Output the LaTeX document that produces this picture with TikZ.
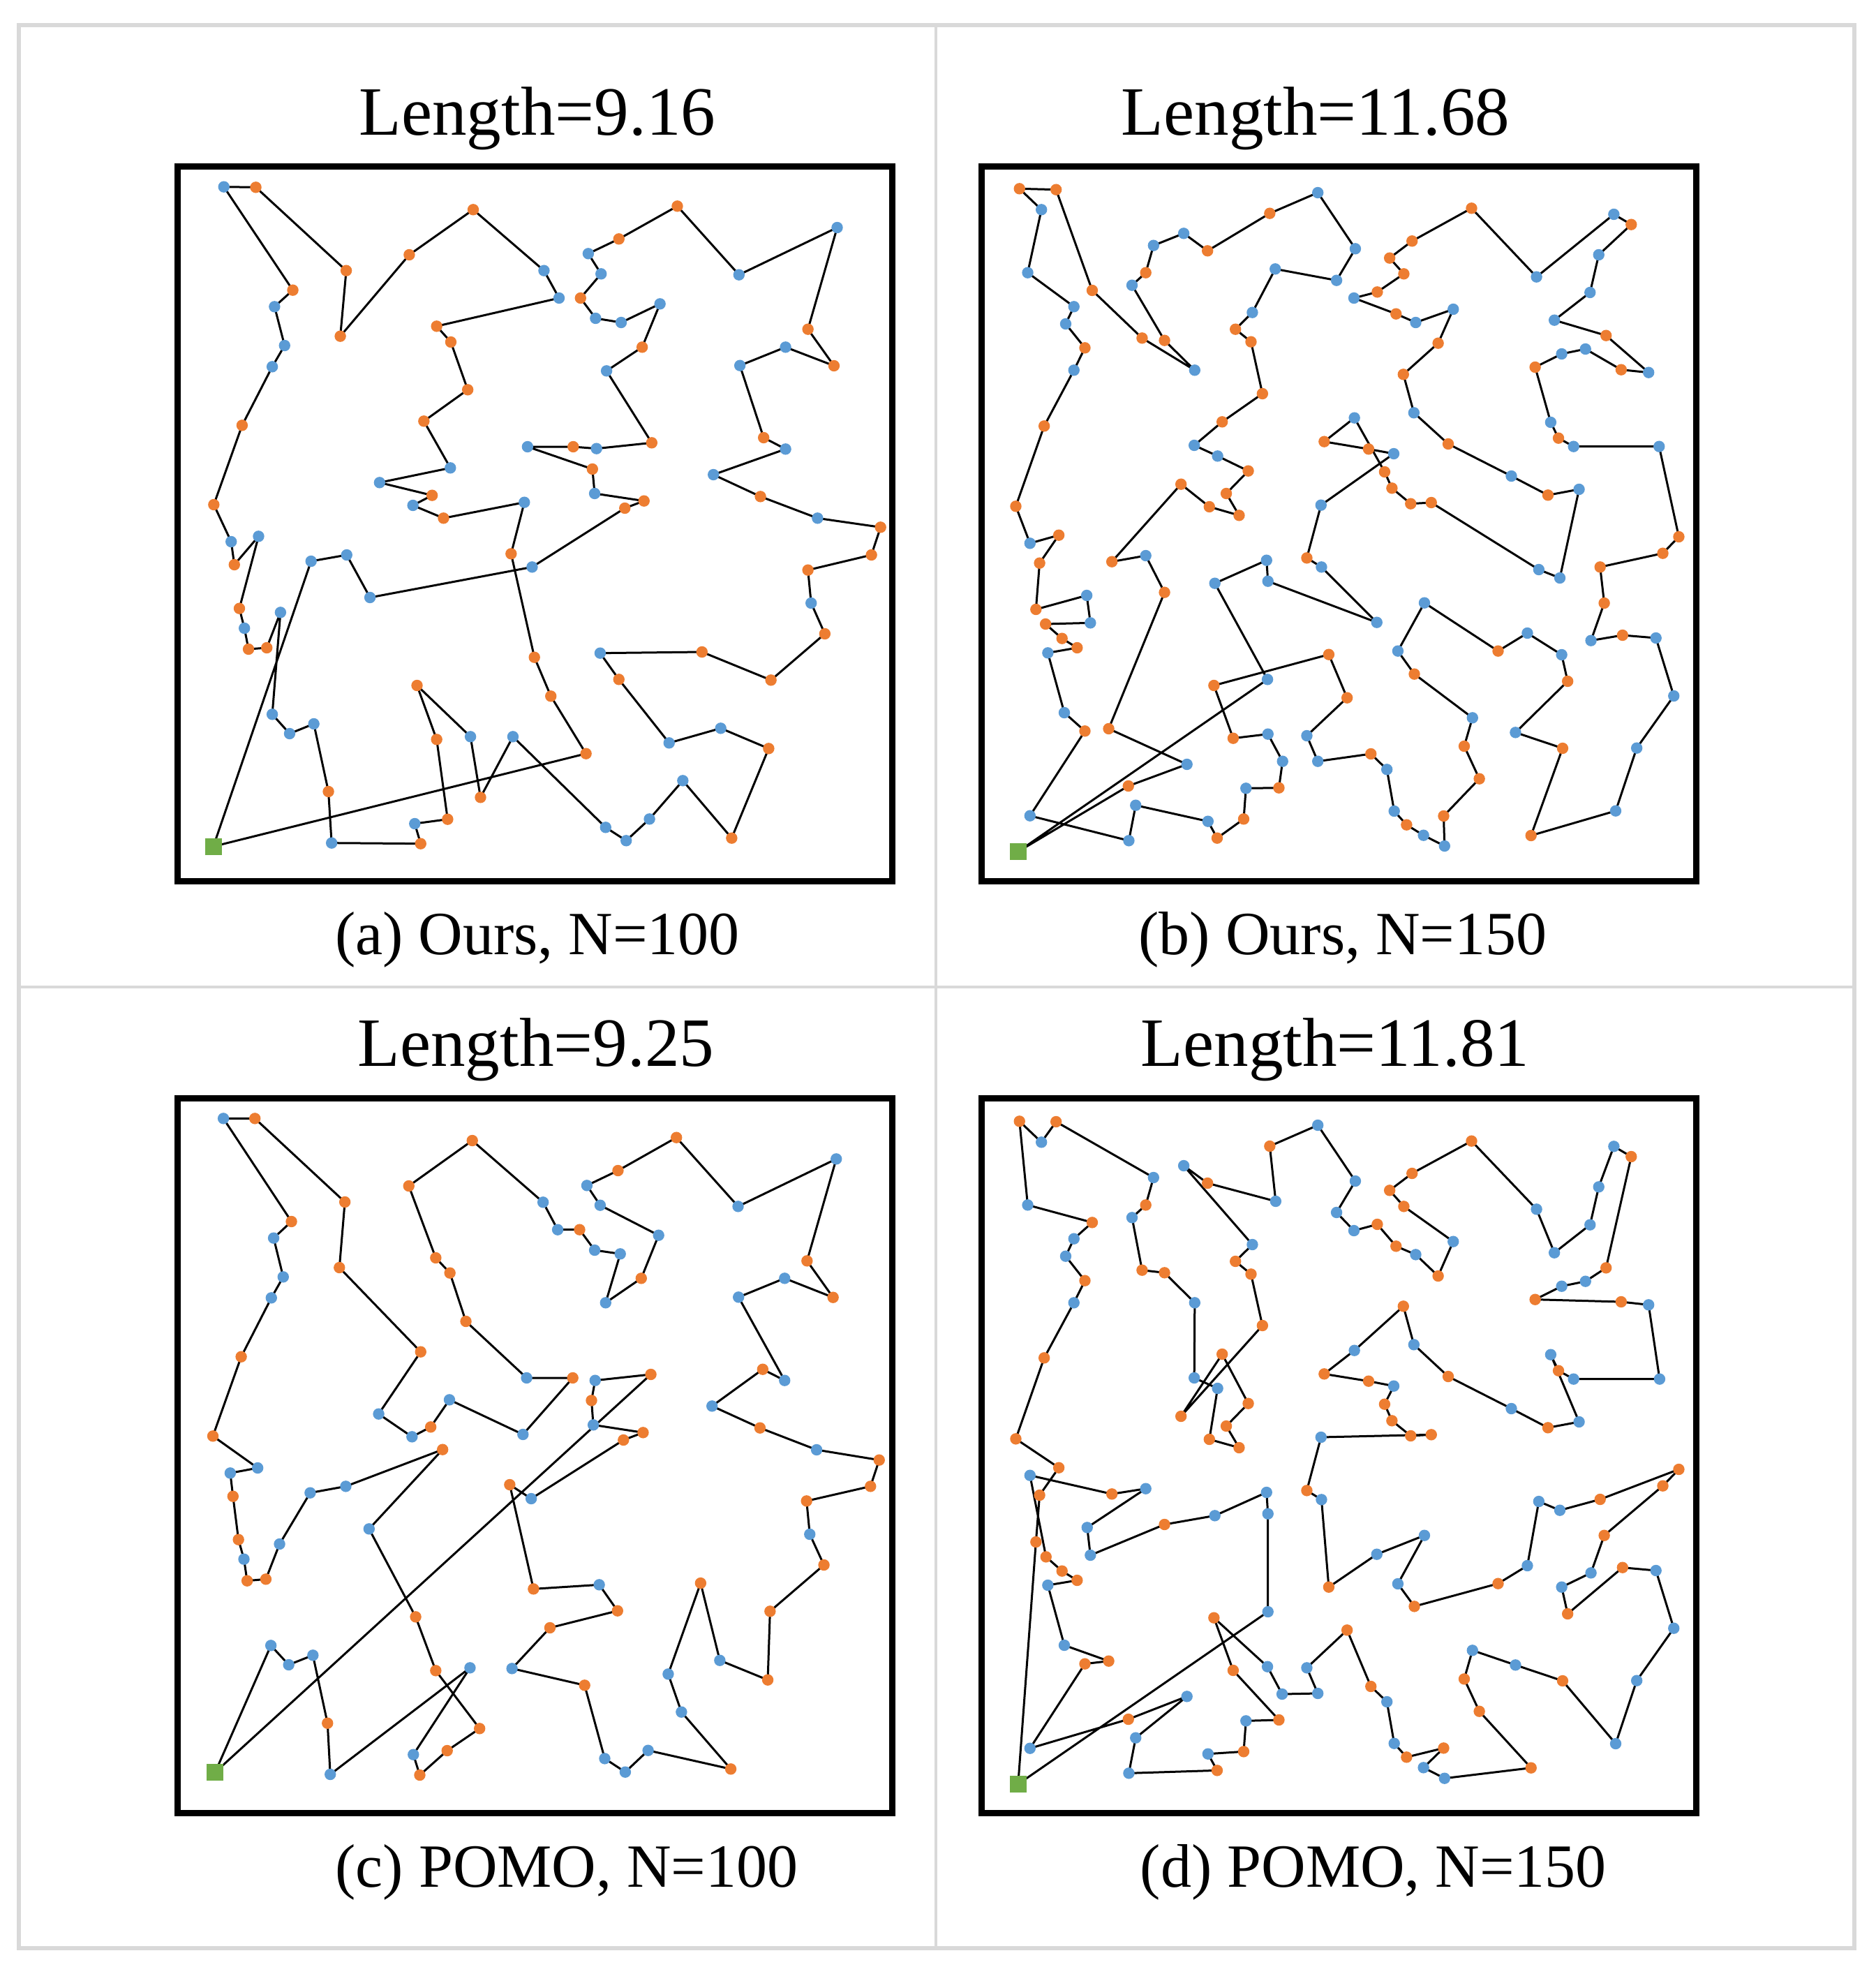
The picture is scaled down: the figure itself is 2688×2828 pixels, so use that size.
\documentclass[tikz,border=0pt]{standalone}
\usepackage{fontspec}
\setmainfont{Liberation Serif}
\usetikzlibrary{backgrounds}
\definecolor{dblue}{HTML}{5B9BD5}
\definecolor{dorange}{HTML}{ED7D31}
\definecolor{dgreen}{HTML}{70AD47}
\definecolor{lgray}{HTML}{D9D9D9}
\newcommand\Bp[3]{\node[bdot] (#1) at (#2,#3) {};}
\newcommand\Op[3]{\node[odot] (#1) at (#2,#3) {};}
\newcommand\Dp[3]{\node[depot] (#1) at (#2,#3) {};}
\begin{document}
\begin{tikzpicture}[x=0.25pt,y=-0.25pt,
 bdot/.style={circle,fill=dblue,inner sep=0pt,minimum size=4.1pt},
 odot/.style={circle,fill=dorange,inner sep=0pt,minimum size=4.1pt},
 depot/.style={rectangle,fill=dgreen,inner sep=0pt,minimum size=6pt},
 toursty/.style={line width=0.75pt,black,line join=round,line cap=round},
 panelframe/.style={line width=2.4pt,black},
 divline/.style={lgray,line width=1pt},
 ttl/.style={anchor=base,inner sep=0pt,font=\fontsize{24.8}{30}\selectfont},
 capt/.style={anchor=base,inner sep=0pt,font=\fontsize{22}{26}\selectfont}]
\useasboundingbox (0,0) rectangle (2688,2828);
% outer border and dividers
\draw[lgray,line width=1.6pt] (27,36) rectangle (2657,2791);
\draw[divline] (1341,36) -- (1341,2791);
\draw[divline] (27,1414) -- (2657,1414);
% panel frames
\draw[panelframe] (254.5,238.5) rectangle (1278.5,1262.5);
\draw[panelframe] (1406.5,238.5) rectangle (2430.5,1262.5);
\draw[panelframe] (254.5,1573.5) rectangle (1278.5,2597.5);
\draw[panelframe] (1406.5,1573.5) rectangle (2430.5,2597.5);
% texts
\node[ttl] (txa) at (770,193) {Length=9.16};
\node[ttl] (txb) at (1885,193) {Length=11.68};
\node[capt] (cpa) at (770,1367) {(a) Ours, N=100};
\node[capt] (cpb) at (1924,1367) {(b) Ours, N=150};
\node[ttl] (txc) at (768,1527) {Length=9.25};
\node[ttl] (txd) at (1913,1527) {Length=11.81};
\node[capt] (cpc) at (812,2703) {(c) POMO, N=100};
\node[capt] (cpd) at (1968,2703) {(d) POMO, N=150};

% ================= Panel (a) =================
\begin{scope}[shift={(254,236)},xscale=0.65434,yscale=0.33333]
\Bp{a1}{102}{95}\Op{a2}{172}{97}\Op{a3}{370}{455}\Op{a4}{357}{737}\Op{a5}{508}{387}
\Op{a6}{648}{193}\Bp{a7}{803}{455}\Bp{a8}{836}{573}\Op{a9}{568}{694}\Op{a10}{599}{762}
\Op{a11}{636}{967}\Op{a12}{540}{1102}\Bp{a13}{598}{1303}\Bp{a14}{443}{1366}\Op{a15}{558}{1421}
\Bp{a16}{516}{1464}\Op{a17}{583}{1519}\Bp{a18}{760}{1451}\Op{a19}{253}{539}\Bp{a20}{213}{610}
\Bp{a21}{235}{777}\Bp{a22}{208}{868}\Op{a23}{142}{1120}\Op{a24}{80}{1461}\Op{a25}{1095}{178}
\Op{a26}{967}{319}\Bp{a27}{900}{382}\Bp{a28}{928}{469}\Op{a29}{883}{573}\Bp{a30}{916}{660}
\Bp{a31}{972}{678}\Bp{a32}{1057}{598}\Op{a33}{1018}{784}\Bp{a34}{940}{886}\Op{a35}{1039}{1195}
\Bp{a36}{918}{1220}\Op{a37}{867}{1212}\Bp{a38}{767}{1212}\Op{a39}{909}{1308}\Bp{a40}{914}{1413}
\Op{a41}{1022}{1445}\Op{a42}{980}{1476}\Bp{a43}{1230}{473}\Bp{a44}{1445}{270}\Op{a45}{1381}{707}
\Bp{a46}{1332}{784}\Bp{a47}{1232}{863}\Op{a48}{1438}{864}\Op{a49}{1284}{1173}\Bp{a50}{1332}{1222}
\Bp{a51}{1174}{1332}\Op{a52}{1277}{1426}\Bp{a53}{1402}{1519}\Op{a54}{1540}{1558}
\end{scope}
\begin{scope}[shift={(254,740)},xscale=0.65434,yscale=0.33333]
\Bp{aa4}{118}{108}\Bp{aa5}{178}{85}\Op{aa6}{125}{207}\Op{aa7}{731}{160}\Bp{aa8}{777}{217}
\Bp{aa9}{293}{192}\Bp{aa10}{371}{165}\Bp{aa11}{422}{348}\Op{aa12}{1520}{165}\Op{aa13}{1381}{230}
\Bp{aa14}{1388}{372}\Op{aa15}{1418}{504}\Op{aa16}{1300}{703}\Op{aa17}{1149}{582}\Bp{aa18}{926}{587}
\Op{aa19}{967}{700}\Bp{aa20}{1077}{973}\Bp{aa21}{1190}{910}\Op{aa22}{1295}{997}\Op{aa23}{1214}{1382}
\Bp{aa24}{1107}{1135}\Bp{aa25}{1034}{1300}\Bp{aa26}{983}{1393}\Bp{aa27}{938}{1336}\Bp{aa28}{735}{946}
\Op{aa29}{664}{1207}\Bp{aa30}{642}{946}\Op{aa31}{525}{726}\Op{aa32}{568}{958}\Op{aa33}{592}{1301}
\Bp{aa34}{520}{1320}\Op{aa35}{533}{1406}\Bp{aa36}{338}{1403}\Op{aa37}{331}{1182}\Bp{aa38}{299}{891}
\Bp{aa39}{246}{933}\Bp{aa40}{208}{850}\Bp{aa41}{226}{412}\Op{aa42}{136}{395}\Bp{aa43}{147}{480}
\Op{aa44}{156}{570}\Op{aa45}{196}{564}\Op{aa46}{782}{605}\Op{aa47}{818}{772}\Op{aa48}{895}{1019}
\Dp{ad}{79}{1418}
\end{scope}

% ================= Panel (b) =================
\begin{scope}[shift={(1405,236)},xscale=0.65561,yscale=0.33333]
\Op{b1}{85}{103}\Op{b2}{165}{107}\Bp{b3}{133}{193}\Bp{b4}{103}{464}\Op{b5}{244}{540}
\Bp{b6}{204}{610}\Bp{b7}{186}{684}\Op{b8}{228}{787}\Bp{b9}{204}{883}\Op{b10}{139}{1123}
\Op{b11}{77}{1468}\Op{b12}{353}{745}\Op{b13}{402}{755}\Bp{b14}{468}{883}\Bp{b15}{331}{518}
\Op{b16}{361}{464}\Bp{b17}{378}{347}\Bp{b18}{444}{295}\Op{b19}{496}{370}\Op{b20}{632}{209}
\Bp{b21}{737}{120}\Bp{b22}{819}{361}\Bp{b23}{778}{497}\Bp{b24}{644}{448}\Bp{b25}{594}{635}
\Op{b26}{557}{707}\Op{b27}{591}{761}\Op{b28}{616}{984}\Op{b29}{528}{1105}\Bp{b30}{467}{1206}
\Bp{b31}{518}{1252}\Op{b32}{585}{1316}\Op{b33}{537}{1413}\Op{b34}{565}{1507}\Op{b35}{500}{1470}
\Op{b36}{438}{1373}\Op{b37}{1073}{187}\Op{b38}{943}{328}\Op{b39}{894}{401}\Op{b40}{925}{469}
\Op{b41}{867}{547}\Bp{b42}{816}{573}\Op{b43}{908}{641}\Bp{b44}{951}{678}\Bp{b45}{1033}{621}
\Op{b46}{1000}{767}\Op{b47}{924}{901}\Bp{b48}{947}{1066}\Op{b49}{1022}{1200}\Bp{b50}{1160}{1338}
\Op{b51}{1240}{1420}\Bp{b52}{1308}{1395}\Bp{b53}{1215}{482}\Bp{b54}{1384}{213}\Op{b55}{1422}{257}
\Bp{b56}{1351}{387}\Bp{b57}{1332}{549}\Bp{b58}{1254}{668}\Op{b59}{1367}{734}\Bp{b60}{1460}{893}
\Op{b61}{1400}{881}\Bp{b62}{1322}{792}\Bp{b63}{1270}{813}\Op{b64}{1212}{870}\Bp{b65}{1246}{1107}
\Op{b66}{1263}{1175}\Bp{b67}{1296}{1211}\Bp{b68}{1483}{1211}\Bp{b69}{817}{1088}\Op{b70}{751}{1190}
\Op{b71}{848}{1222}\Bp{b72}{903}{1242}\Bp{b73}{744}{1463}\Op{b74}{883}{1320}\Op{b75}{899}{1390}
\Op{b76}{940}{1457}\Op{b77}{985}{1452}
\end{scope}
\begin{scope}[shift={(1405,740)},xscale=0.65561,yscale=0.33333]
\Bp{bb2}{108}{115}\Op{bb3}{171}{80}\Op{bb4}{129}{200}\Bp{bb5}{232}{339}\Op{bb6}{121}{399}
\Bp{bb7}{240}{457}\Op{bb8}{142}{462}\Op{bb9}{178}{524}\Op{bb10}{211}{564}\Bp{bb11}{147}{586}
\Bp{bb12}{183}{843}\Op{bb13}{228}{922}\Bp{bb14}{108}{1286}\Bp{bb15}{324}{1393}\Bp{bb16}{339}{1241}
\Bp{bb17}{497}{1310}\Op{bb18}{517}{1382}\Op{bb19}{575}{1300}\Bp{bb20}{580}{1168}\Op{bb21}{652}{1166}
\Bp{bb22}{660}{1052}\Bp{bb23}{628}{935}\Op{bb24}{552}{953}\Op{bb25}{510}{726}\Op{bb26}{761}{593}
\Op{bb27}{801}{779}\Bp{bb28}{713}{942}\Bp{bb29}{737}{1052}\Op{bb30}{853}{1020}\Bp{bb31}{888}{1087}
\Bp{bb32}{904}{1266}\Op{bb33}{931}{1325}\Bp{bb34}{968}{1370}\Bp{bb35}{1014}{1416}\Op{bb36}{1012}{1287}
\Op{bb37}{1090}{1127}\Op{bb38}{1057}{987}\Bp{bb39}{1075}{865}\Op{bb40}{948}{677}\Bp{bb41}{912}{578}
\Bp{bb42}{970}{371}\Op{bb43}{1131}{578}\Bp{bb44}{1195}{501}\Bp{bb45}{1270}{594}\Op{bb46}{1283}{708}
\Bp{bb47}{1169}{928}\Op{bb48}{1272}{996}\Op{bb49}{1203}{1371}\Bp{bb50}{1388}{1265}\Bp{bb51}{1434}{995}
\Bp{bb52}{1515}{771}\Bp{bb53}{1476}{522}\Op{bb54}{1403}{510}\Bp{bb55}{1334}{533}\Op{bb56}{1363}{372}
\Op{bb57}{1354}{217}\Op{bb58}{1491}{158}\Op{bb59}{1526}{87}\Bp{bb60}{1220}{228}\Bp{bb61}{1266}{264}
\Op{bb62}{713}{178}\Bp{bb63}{745}{217}\Bp{bb64}{866}{455}\Bp{bb65}{628}{278}\Bp{bb66}{625}{188}
\Bp{bb67}{512}{287}\Bp{bb68}{627}{700}\Op{bb69}{287}{194}\Bp{bb70}{361}{168}\Op{bb71}{402}{326}
\Op{bb72}{280}{912}\Bp{bb73}{451}{1065}\Op{bb74}{323}{1158}
\Dp{bd}{82}{1440}
\end{scope}

% ================= Panel (c) =================
\begin{scope}[shift={(254,1573)},xscale=0.65434,yscale=0.33333]
\Bp{c1}{101}{88}\Op{c2}{170}{88}\Op{c3}{367}{447}\Op{c4}{355}{729}\Op{c5}{533}{1091}
\Bp{c6}{441}{1358}\Bp{c7}{514}{1456}\Op{c8}{555}{1414}\Bp{c9}{596}{1297}\Bp{c10}{757}{1446}
\Op{c11}{866}{1203}\Bp{c12}{765}{1203}\Op{c13}{632}{960}\Op{c14}{597}{752}\Op{c15}{566}{687}
\Op{c16}{507}{378}\Op{c17}{646}{183}\Bp{c18}{801}{448}\Bp{c19}{833}{566}\Op{c20}{881}{566}
\Bp{c21}{914}{654}\Bp{c22}{970}{670}\Bp{c23}{938}{880}\Op{c24}{1016}{775}\Bp{c25}{1054}{590}
\Bp{c26}{926}{461}\Bp{c27}{897}{376}\Op{c28}{965}{312}\Op{c29}{1093}{170}\Bp{c30}{1228}{466}
\Bp{c31}{1443}{262}\Op{c32}{1379}{700}\Op{c33}{1436}{857}\Bp{c34}{1330}{775}\Bp{c35}{1229}{856}
\Bp{c36}{1330}{1214}\Op{c37}{1282}{1166}\Bp{c38}{1171}{1324}\Op{c39}{1276}{1418}\Bp{c40}{1400}{1512}
\Op{c41}{1537}{1556}\Op{c42}{250}{531}\Bp{c43}{211}{602}\Bp{c44}{232}{769}\Bp{c45}{206}{859}
\Op{c46}{140}{1112}\Op{c47}{78}{1453}\Bp{c48}{915}{1214}\Op{c49}{1037}{1188}\Op{c50}{907}{1300}
\Bp{c51}{911}{1405}\Op{c52}{1020}{1438}\Op{c53}{977}{1470}\Op{c54}{581}{1511}
\end{scope}
\begin{scope}[shift={(254,2077)},xscale=0.65434,yscale=0.33333]
\Bp{cc4}{176}{78}\Bp{cc5}{116}{100}\Op{cc6}{122}{200}\Op{cc7}{134}{386}\Bp{cc8}{146}{470}
\Op{cc9}{153}{563}\Op{cc10}{194}{556}\Bp{cc11}{224}{405}\Bp{cc12}{291}{185}\Bp{cc13}{369}{157}
\Bp{cc14}{420}{340}\Op{cc15}{522}{718}\Op{cc16}{566}{949}\Op{cc17}{662}{1198}\Op{cc18}{591}{1293}
\Op{cc19}{531}{1398}\Bp{cc20}{517}{1310}\Bp{cc21}{641}{937}\Bp{cc22}{335}{1395}\Op{cc23}{329}{1175}
\Bp{cc24}{297}{883}\Bp{cc25}{244}{924}\Bp{cc26}{205}{841}\Op{cc27}{728}{150}\Bp{cc28}{775}{210}
\Op{cc29}{780}{598}\Bp{cc30}{924}{580}\Op{cc31}{964}{692}\Op{cc32}{816}{765}\Bp{cc33}{733}{940}
\Op{cc34}{892}{1012}\Bp{cc35}{936}{1327}\Bp{cc36}{981}{1385}\Bp{cc37}{1031}{1292}\Op{cc38}{1212}{1372}
\Bp{cc39}{1104}{1127}\Bp{cc40}{1075}{964}\Op{cc41}{1146}{573}\Bp{cc42}{1188}{905}\Op{cc43}{1293}{989}
\Op{cc44}{1298}{694}\Op{cc45}{1416}{495}\Bp{cc46}{1385}{363}\Op{cc47}{1378}{220}\Op{cc48}{1518}{157}
\Dp{cd}{83}{1386}
\end{scope}

% ================= Panel (d) =================
\begin{scope}[shift={(1405,1573)},xscale=0.65561,yscale=0.33333]
\Op{d1}{85}{100}\Op{d2}{165}{102}\Bp{d3}{133}{190}\Bp{d4}{378}{342}\Op{d5}{361}{460}
\Bp{d6}{331}{514}\Op{d7}{353}{740}\Op{d8}{402}{751}\Bp{d9}{468}{880}\Bp{d10}{467}{1203}
\Bp{d11}{518}{1248}\Op{d12}{500}{1467}\Op{d13}{565}{1503}\Op{d14}{537}{1410}\Op{d15}{585}{1313}
\Op{d16}{528}{1101}\Op{d17}{438}{1368}\Op{d18}{616}{978}\Op{d19}{591}{757}\Op{d20}{557}{702}
\Bp{d21}{594}{630}\Bp{d22}{444}{291}\Op{d23}{496}{366}\Bp{d24}{645}{444}\Op{d25}{632}{207}
\Bp{d26}{737}{117}\Bp{d27}{819}{357}\Bp{d28}{778}{492}\Bp{d29}{816}{570}\Op{d30}{867}{543}
\Op{d31}{908}{637}\Bp{d32}{951}{673}\Op{d33}{1000}{765}\Bp{d34}{1033}{617}\Op{d35}{925}{466}
\Op{d36}{894}{397}\Op{d37}{943}{324}\Op{d38}{1073}{185}\Bp{d39}{1215}{478}\Bp{d40}{1254}{665}
\Bp{d41}{1332}{545}\Bp{d42}{1351}{382}\Bp{d43}{1384}{208}\Op{d44}{1422}{252}\Op{d45}{1367}{730}
\Bp{d46}{1322}{788}\Bp{d47}{1270}{809}\Op{d48}{1212}{866}\Op{d49}{1400}{876}\Bp{d50}{1460}{889}
\Bp{d51}{1484}{1208}\Bp{d52}{1296}{1208}\Op{d53}{1263}{1172}\Bp{d54}{1246}{1103}\Bp{d55}{1308}{1392}
\Op{d56}{1240}{1417}\Bp{d57}{1160}{1335}\Op{d58}{1022}{1197}\Bp{d59}{947}{1060}\Op{d60}{924}{895}
\Bp{d61}{817}{1085}\Op{d62}{751}{1186}\Op{d63}{848}{1217}\Bp{d64}{903}{1238}\Op{d65}{883}{1316}
\Op{d66}{899}{1387}\Op{d67}{940}{1452}\Op{d68}{985}{1447}\Bp{d69}{744}{1458}\Bp{d70}{103}{460}
\Op{d71}{244}{535}\Bp{d72}{204}{605}\Bp{d73}{186}{680}\Op{d74}{228}{785}\Bp{d75}{204}{880}
\Op{d76}{139}{1117}\Op{d77}{77}{1465}
\end{scope}
\begin{scope}[shift={(1405,2077)},xscale=0.65561,yscale=0.33333]
\Op{dd1}{171}{77}\Bp{dd2}{108}{110}\Op{dd3}{129}{195}\Op{dd4}{287}{190}\Bp{dd5}{361}{167}
\Bp{dd6}{233}{334}\Bp{dd7}{240}{453}\Op{dd8}{402}{321}\Bp{dd9}{512}{283}\Bp{dd10}{625}{183}
\Bp{dd11}{628}{275}\Bp{dd12}{628}{696}\Op{dd13}{121}{396}\Op{dd14}{143}{460}\Op{dd15}{178}{521}
\Op{dd16}{211}{561}\Bp{dd17}{147}{582}\Bp{dd18}{183}{840}\Op{dd19}{280}{908}\Op{dd20}{228}{920}
\Bp{dd21}{108}{1283}\Op{dd22}{323}{1158}\Bp{dd23}{451}{1060}\Bp{dd24}{339}{1238}\Bp{dd25}{324}{1390}
\Op{dd26}{517}{1378}\Bp{dd27}{497}{1307}\Op{dd28}{575}{1297}\Bp{dd29}{580}{1165}\Op{dd30}{652}{1161}
\Op{dd31}{552}{948}\Op{dd32}{510}{722}\Bp{dd33}{627}{932}\Bp{dd34}{659}{1050}\Bp{dd35}{737}{1047}
\Bp{dd36}{713}{937}\Op{dd37}{801}{775}\Op{dd38}{853}{1017}\Bp{dd39}{888}{1083}\Bp{dd40}{904}{1262}
\Op{dd41}{931}{1321}\Op{dd42}{1012}{1282}\Bp{dd43}{968}{1366}\Bp{dd44}{1014}{1412}\Op{dd45}{1203}{1367}
\Op{dd46}{1090}{1124}\Op{dd47}{1057}{985}\Bp{dd48}{1075}{862}\Bp{dd49}{1169}{925}\Op{dd50}{1272}{993}
\Bp{dd51}{1388}{1263}\Bp{dd52}{1434}{992}\Bp{dd53}{1515}{767}\Bp{dd54}{1476}{519}\Op{dd55}{1403}{506}
\Op{dd56}{1283}{705}\Bp{dd57}{1270}{590}\Bp{dd58}{1334}{529}\Op{dd59}{1363}{368}\Op{dd60}{1491}{155}
\Op{dd61}{1526}{84}\Op{dd62}{1354}{213}\Bp{dd63}{1266}{260}\Bp{dd64}{1220}{222}\Bp{dd65}{1195}{498}
\Op{dd66}{1131}{575}\Op{dd67}{948}{673}\Bp{dd68}{912}{576}\Bp{dd69}{970}{368}\Bp{dd70}{866}{449}
\Op{dd71}{761}{590}\Bp{dd72}{745}{214}\Op{dd73}{713}{175}
\Dp{ddep}{82}{1437}
\end{scope}

% ================= tours (behind the dots) =================
\begin{scope}[on background layer]
\draw[toursty] (ad.center) foreach \n in {aa9,aa10,aa11,aa8,a42,a41,a40,a39,a38,a37,a36,a35,a34,a33,a32,a31,a30,a29,a28,a27,a26,a25,a43,a44,a45,a48,a46,a47,a49,a50,a51,a52,a53,a54,aa12,aa13,aa14,aa15,aa16,aa17,aa18,aa19,aa20,aa21,aa22,aa23,aa24,aa25,aa26,aa27,aa28,aa29,aa30,aa31,aa32,aa33,aa34,aa35,aa36,aa37,aa38,aa39,aa40,aa41,aa45,aa44,aa43,aa42,aa5,aa6,aa4,a24,a23,a22,a21,a20,a19,a1,a2,a3,a4,a5,a6,a7,a8,a9,a10,a11,a12,a13,a14,a15,a16,a17,a18,aa7,aa46,aa47,aa48,ad} {-- (\n.center)};
\draw[toursty] (bd.center) foreach \n in {bb68,bb67,bb66,bb65,bb64,bb63,bb62,b73,b72,b71,b70,b69,b74,b75,b76,b77,bb60,bb61,b52,b51,b50,b49,b48,b47,b46,b45,b44,b43,b42,b41,b40,b39,b38,b37,b53,b54,b55,b56,b57,b58,b59,b60,b61,b62,b63,b64,b65,b66,b67,b68,bb59,bb58,bb57,bb56,bb55,bb54,bb53,bb52,bb51,bb50,bb49,bb48,bb47,bb46,bb45,bb44,bb43,bb42,bb41,bb40,bb39,bb38,bb37,bb36,bb35,bb34,bb33,bb32,bb31,bb30,bb29,bb28,bb27,bb26,bb25,bb24,bb23,bb22,bb21,bb20,bb19,bb18,bb17,bb16,bb15,bb14,bb13,bb12,bb11,bb10,bb9,bb8,bb7,bb5,bb6,bb4,bb3,bb2,b11,b10,b9,b8,b7,b6,b4,b3,b1,b2,b5,b12,b14,b13,b15,b16,b17,b18,b19,b20,b21,b22,b23,b24,b25,b26,b27,b28,b29,b30,b31,b32,b33,b34,b35,b36,bb69,bb70,bb71,bb72,bb73,bb74,bd} {-- (\n.center)};
\draw[toursty] (cd.center) foreach \n in {c49,c48,c50,c51,c52,c53,cc28,cc27,cc29,cc30,cc31,cc32,cc33,cc34,cc35,cc36,cc37,cc38,cc39,cc40,cc41,cc42,cc43,cc44,cc45,cc46,cc47,cc48,c41,c40,c39,c38,c37,c36,c35,c34,c33,c32,c31,c30,c29,c28,c27,c26,c25,c24,c23,c22,c21,c20,c19,c18,c17,c16,c15,c14,c13,c12,c11,c10,c9,c8,c7,c6,c5,c4,c3,c2,c1,c42,c43,c44,c45,c46,c47,cc4,cc5,cc6,cc7,cc8,cc9,cc10,cc11,cc12,cc13,c54,cc14,cc15,cc16,cc17,cc18,cc19,cc20,cc21,cc22,cc23,cc24,cc25,cc26,cd} {-- (\n.center)};
\draw[toursty] (ddep.center) foreach \n in {dd12,dd11,dd10,dd9,dd8,dd7,dd6,dd5,dd4,dd2,dd14,dd15,dd16,dd17,dd18,dd19,dd20,dd21,dd22,dd23,dd24,dd25,dd26,dd27,dd28,dd29,dd30,dd31,dd32,dd33,dd34,dd35,dd36,dd37,dd38,dd39,dd40,dd41,dd42,dd43,dd44,dd45,dd46,dd47,dd48,dd49,dd50,dd51,dd52,dd53,dd54,dd55,dd56,dd57,dd58,dd59,dd60,dd61,dd62,dd63,dd64,dd65,dd66,dd67,dd68,dd69,dd70,dd71,dd72,dd73,d69,d68,d67,d66,d65,d64,d63,d62,d61,d60,d59,d58,d57,d56,d55,d54,d53,d52,d51,d50,d49,d48,d47,d46,d45,d44,d43,d42,d41,d40,d39,d38,d37,d36,d35,d34,d33,d32,d31,d30,d29,d28,d27,d26,d25,d24,d23,d22,d21,d20,d19,d18,d17,d16,d15,d14,d13,d12,d11,d10,d9,d8,d7,d6,d5,d4,d2,d3,d1,d70,d71,d72,d73,d74,d75,d76,d77,dd1,dd3,dd13,ddep} {-- (\n.center)};
\end{scope}
\end{tikzpicture}
\end{document}
